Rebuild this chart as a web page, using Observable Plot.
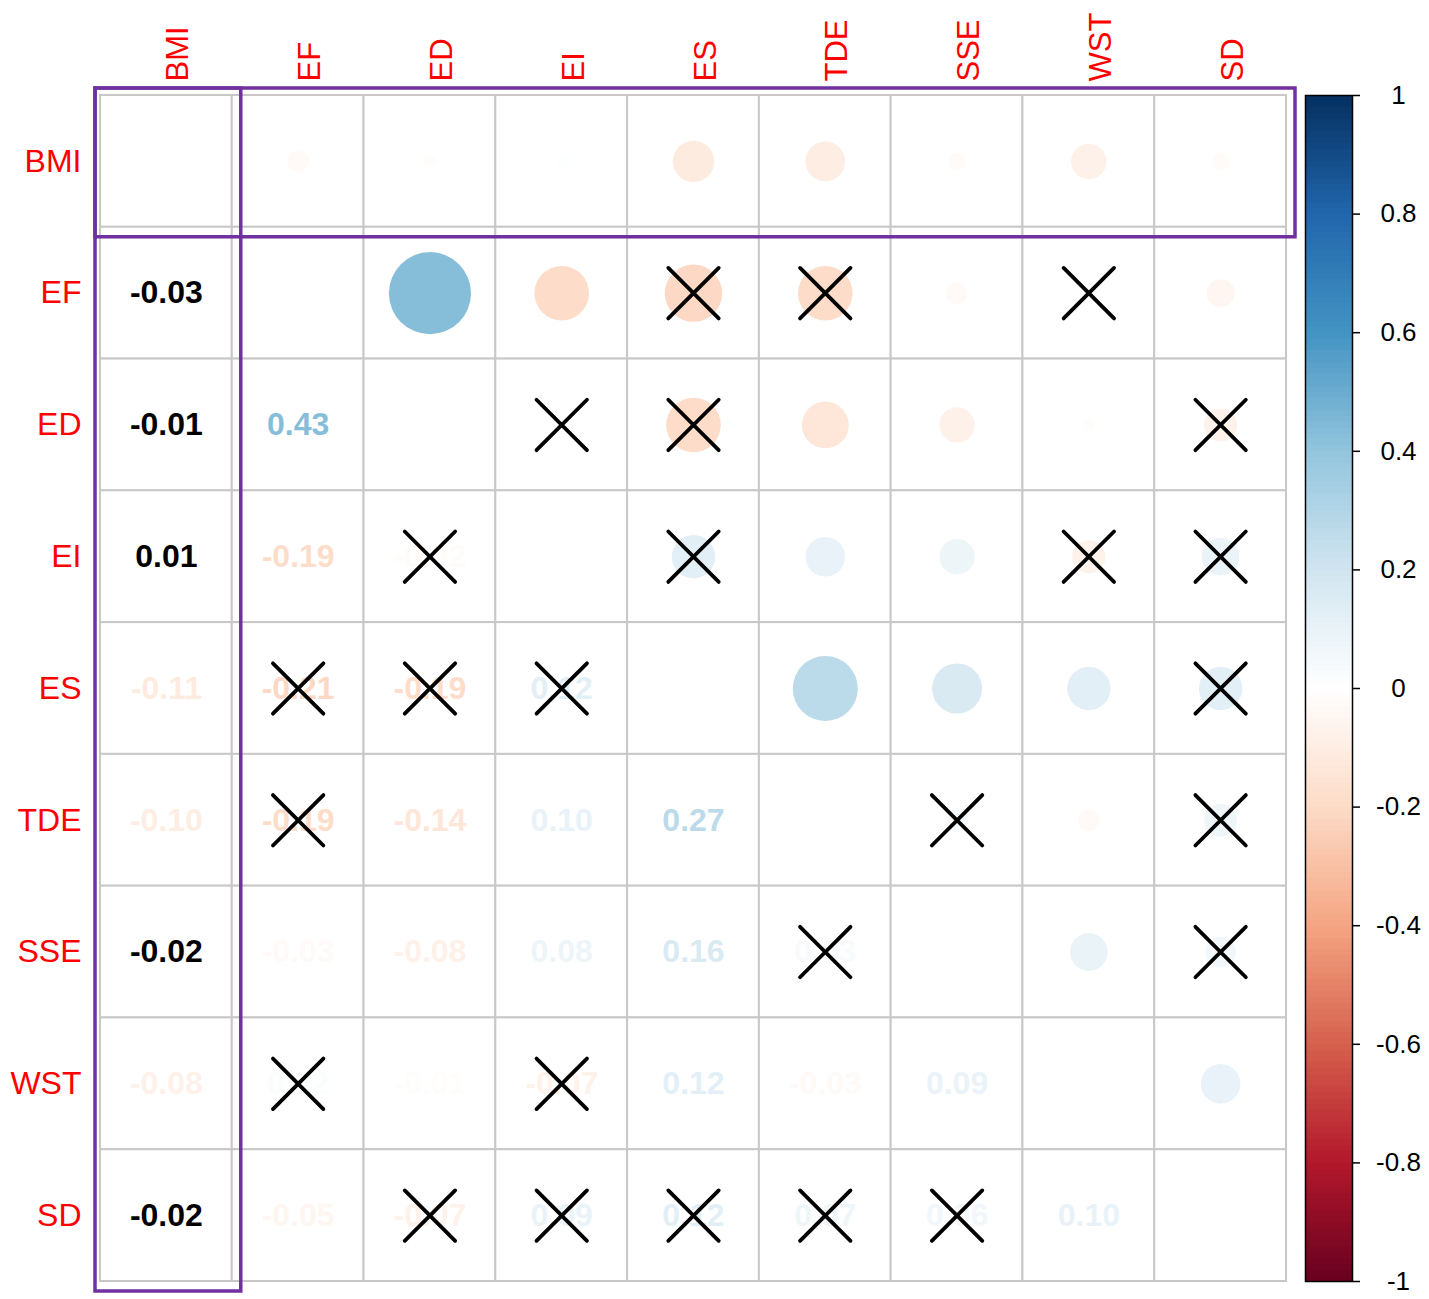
<!DOCTYPE html>
<html>
<head>
<meta charset="utf-8">
<script src="https://cdn.jsdelivr.net/npm/d3@7"></script>
<script src="https://cdn.jsdelivr.net/npm/@observablehq/plot@0.6"></script>
<style>
  html, body { margin: 0; padding: 0; background: #fff; }
  #wrap { position: relative; width: 1429px; height: 1299px; font-family: "Liberation Sans", Arial, sans-serif; }
  #bar { position: absolute; left: 1290px; top: 0; }
  #main { position: absolute; left: 0; top: 0; z-index: 2; }
  #main svg, #bar svg { background: transparent !important; }
</style>
</head>
<body>
<div id="wrap"><div id="bar"></div><div id="main"></div></div>
<script>
// ---- data ----
const vars = ["BMI", "EF", "ED", "EI", "ES", "TDE", "SSE", "WST", "SD"];
// lower triangle: row i, columns 0..i-1
const lowerValues = [
  [],
  [-0.03],
  [-0.01, 0.43],
  [0.01, -0.19, -0.02],
  [-0.11, -0.21, -0.19, 0.12],
  [-0.10, -0.19, -0.14, 0.10, 0.27],
  [-0.02, -0.03, -0.08, 0.08, 0.16, 0.03],
  [-0.08, 0.02, -0.01, -0.07, 0.12, -0.03, 0.09],
  [-0.02, -0.05, -0.07, 0.09, 0.12, 0.07, 0.06, 0.10]
];
// non-significant pairs (crossed)
const insignificantPairs = [
  ["EF", "ES"], ["EF", "TDE"], ["EF", "WST"], ["ED", "EI"], ["ED", "ES"], ["ED", "SD"],
  ["EI", "ES"], ["EI", "WST"], ["EI", "SD"], ["ES", "SD"], ["TDE", "SSE"], ["TDE", "SD"], ["SSE", "SD"]
];
// coefficients printed in black
const blackLabelPairs = [["EF", "BMI"], ["ED", "BMI"], ["EI", "BMI"], ["SSE", "BMI"], ["SD", "BMI"]];
const highlightVar = "BMI";
const colorbarTicks = [1, 0.8, 0.6, 0.4, 0.2, 0, -0.2, -0.4, -0.6, -0.8, -1];
const paletteStops = [-1, -0.8, -0.6, -0.4, -0.2, 0, 0.2, 0.4, 0.6, 0.8, 1];
const paletteColors = ["#67001F", "#B2182B", "#D6604D", "#F4A582", "#FDDBC7", "#FFFFFF",
                       "#D1E5F0", "#92C5DE", "#4393C3", "#2166AC", "#053061"];

// ---- derived tables ----
const n = vars.length;
const val = (i, j) => i > j ? lowerValues[i][j] : lowerValues[j][i];
const key = (a, b) => [a, b].sort().join("|");
const insig = new Set(insignificantPairs.map(([a, b]) => key(a, b)));
const blackSet = new Set(blackLabelPairs.map(([a, b]) => a + ">" + b));
const cells = [];
for (let i = 0; i < n; i++) for (let j = 0; j < n; j++) {
  cells.push({i, j, row: vars[i], col: vars[j], v: i === j ? null : val(i, j),
    insig: i !== j && insig.has(key(vars[i], vars[j])),
    black: blackSet.has(vars[i] + ">" + vars[j])});
}
const upper = cells.filter(d => d.j > d.i);
const lower = cells.filter(d => d.i > d.j);
const crossed = cells.filter(d => d.insig);
const hi = vars.indexOf(highlightVar);
const highlightBoxes = [
  {c1: 0, c2: n, r1: hi, r2: hi + 1},
  {c1: hi, c2: hi + 1, r1: 0, r2: n}
];
const colorScale = {type: "linear", domain: paletteStops, range: paletteColors, interpolate: "rgb"};
const font = "Liberation Sans, Arial, sans-serif";

const main = Plot.plot({
  width: 1300, height: 1299,
  marginLeft: 100, marginRight: 14, marginTop: 95, marginBottom: 18,
  style: {fontFamily: font, background: "transparent"},
  x: {domain: [0, n], axis: null},
  y: {domain: [n, 0], axis: null},
  r: {type: "sqrt", domain: [0, 1], range: [0, 62.6]},
  color: colorScale,
  marks: [
    Plot.rect(cells, {x1: d => d.j, x2: d => d.j + 1, y1: d => d.i, y2: d => d.i + 1,
      fill: "white", stroke: "#c8c8c8", strokeWidth: 2}),
    Plot.dot(upper, {x: d => d.j + 0.5, y: d => d.i + 0.5, r: d => Math.abs(d.v), fill: d => d.v, stroke: "none"}),
    Plot.text(lower.filter(d => !d.black), {x: d => d.j + 0.5, y: d => d.i + 0.5,
      text: d => d.v.toFixed(2), fill: d => d.v, fontSize: 32, fontWeight: "bold"}),
    Plot.text(lower.filter(d => d.black), {x: d => d.j + 0.5, y: d => d.i + 0.5,
      text: d => d.v.toFixed(2), fill: "black", fontSize: 32, fontWeight: "bold"}),
    Plot.dot(crossed, {x: d => d.j + 0.5, y: d => d.i + 0.5, symbol: "times", r: 23,
      stroke: "black", strokeWidth: 3.8, strokeLinecap: "round", fill: "none"}),
    Plot.text(vars, {x: (d, i) => i + 0.5, frameAnchor: "top", dy: -14, rotate: -90,
      textAnchor: "start", text: d => d, fill: "#FF0000", fontSize: 31}),
    Plot.text(vars, {y: (d, i) => i + 0.5, frameAnchor: "left", dx: -19,
      textAnchor: "end", text: d => d, fill: "#FF0000", fontSize: 32}),
    Plot.rect(highlightBoxes, {x1: "c1", x2: "c2", y1: "r1", y2: "r2", fill: "none",
      stroke: "#7030A0", strokeWidth: 3.5, insetLeft: -5, insetTop: -7, insetRight: -9, insetBottom: -10})
  ]
});
document.getElementById("main").appendChild(main);

const step = 0.01;
const steps = d3.range(0, 200).map(k => -1 + k * step);
const bar = Plot.plot({
  width: 139, height: 1299,
  marginLeft: 15, marginRight: 77, marginTop: 95, marginBottom: 18,
  style: {fontFamily: font, background: "transparent"},
  x: {domain: [0, 1], axis: null},
  y: {domain: [-1, 1]},
  color: colorScale,
  marks: [
    Plot.rect(steps, {x1: () => 0, x2: () => 1, y1: d => d, y2: d => d + step,
      fill: d => d + step / 2, stroke: d => d + step / 2, strokeWidth: 1, shapeRendering: "crispEdges"}),
    Plot.frame({stroke: "black", strokeWidth: 1.5}),
    Plot.axisY({anchor: "right", ticks: colorbarTicks, tickSize: 7, tickPadding: 39,
      textAnchor: "middle", tickFormat: d => String(d), fontSize: 26, stroke: "black", strokeWidth: 1.5, fill: "black"})
  ]
});
document.getElementById("bar").appendChild(bar);
</script>
</body>
</html>
